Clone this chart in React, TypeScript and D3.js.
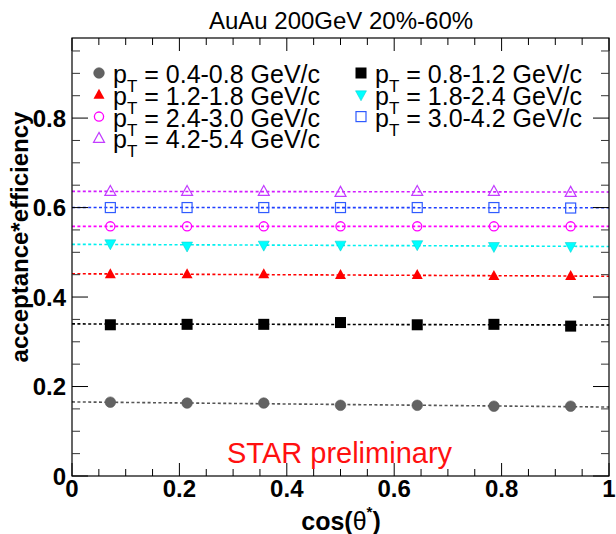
import React from "react";
import * as d3 from "d3";

// cos(theta*) bin centres (7 bins over [0, 1])
const binCenters = [0.0714, 0.2143, 0.3571, 0.5, 0.6429, 0.7857, 0.9286];

// acceptance*efficiency per pT bin
const pt04to08 = [0.165, 0.163, 0.163, 0.158, 0.158, 0.156, 0.156];
const pt08to12 = [0.338, 0.339, 0.339, 0.343, 0.338, 0.339, 0.335];
const pt12to18 = [0.451, 0.451, 0.451, 0.449, 0.449, 0.447, 0.447];
const pt18to24 = [0.519, 0.514, 0.516, 0.516, 0.517, 0.513, 0.513];
const pt24to30 = [0.558, 0.558, 0.558, 0.558, 0.558, 0.558, 0.558];
const pt30to42 = [0.6, 0.6, 0.6, 0.6, 0.6, 0.6, 0.599];
const pt42to54 = [0.636, 0.636, 0.636, 0.634, 0.636, 0.636, 0.634];

const ptLabels = [
  "0.4-0.8", "0.8-1.2", "1.2-1.8", "1.8-2.4", "2.4-3.0", "3.0-4.2", "4.2-5.4",
];

const xTickLabels = ["0", "0.2", "0.4", "0.6", "0.8", "1"];
const yTickLabels = ["0", "0.2", "0.4", "0.6", "0.8"];

type MarkerKind = "circle" | "square" | "triUp" | "triDown" | "openCircle" | "openSquare" | "openTriUp";

interface Series {
  label: string;
  values: number[];
  marker: MarkerKind;
  color: string;
  lineColor: string;
}

const series: Series[] = [
  { label: ptLabels[0], values: pt04to08, marker: "circle", color: "#626262", lineColor: "#555" },
  { label: ptLabels[1], values: pt08to12, marker: "square", color: "#000", lineColor: "#000" },
  { label: ptLabels[2], values: pt12to18, marker: "triUp", color: "#ff0000", lineColor: "#ff0000" },
  { label: ptLabels[3], values: pt18to24, marker: "triDown", color: "#00ffff", lineColor: "#00f0f0" },
  { label: ptLabels[4], values: pt24to30, marker: "openCircle", color: "#ff00ff", lineColor: "#ff00ff" },
  { label: ptLabels[5], values: pt30to42, marker: "openSquare", color: "#2f5bff", lineColor: "#1f3fff" },
  { label: ptLabels[6], values: pt42to54, marker: "openTriUp", color: "#c23cff", lineColor: "#d21cff" },
];

// legend layout: left column then right column
const legendLeft = [0, 2, 4, 6];
const legendRight = [1, 3, 5];

const W = 616;
const H = 534;
const frame = { left: 72, right: 609, top: 38, bottom: 476 };
const FONT = "'Liberation Sans', Arial, Helvetica, sans-serif";

const x = d3.scaleLinear().domain([0, 1]).range([frame.left, frame.right]);
const y = d3.scaleLinear().domain([0, 0.979]).range([frame.bottom, frame.top]);

function linearFit(xs: number[], ys: number[]) {
  const n = xs.length;
  const mx = d3.mean(xs)!;
  const my = d3.mean(ys)!;
  let sxy = 0;
  let sxx = 0;
  for (let i = 0; i < n; i++) {
    sxy += (xs[i] - mx) * (ys[i] - my);
    sxx += (xs[i] - mx) * (xs[i] - mx);
  }
  const b = sxx === 0 ? 0 : sxy / sxx;
  return { a: my - b * mx, b };
}

function Marker({ kind, cx, cy, color }: { kind: MarkerKind; cx: number; cy: number; color: string }) {
  switch (kind) {
    case "circle":
      return <circle cx={cx} cy={cy} r={5.3} fill={color} stroke="#555" strokeWidth={0.6} />;
    case "square":
      return <rect x={cx - 5.5} y={cy - 5.5} width={11} height={11} fill={color} />;
    case "triUp":
      return (
        <path
          d={`M${cx},${cy - 6} L${cx + 5.5},${cy + 4} L${cx - 5.5},${cy + 4} Z`}
          fill={color}
        />
      );
    case "triDown":
      return (
        <path
          d={`M${cx},${cy + 6} L${cx + 5.5},${cy - 4} L${cx - 5.5},${cy - 4} Z`}
          fill={color}
          stroke="#00c8c8"
          strokeWidth={0.5}
        />
      );
    case "openCircle":
      return <circle cx={cx} cy={cy} r={4.6} fill="none" stroke={color} strokeWidth={1.3} />;
    case "openSquare":
      return (
        <rect x={cx - 5} y={cy - 5} width={10} height={10} fill="none" stroke={color} strokeWidth={1.2} />
      );
    case "openTriUp":
      return (
        <path
          d={`M${cx},${cy - 6} L${cx + 5.5},${cy + 4} L${cx - 5.5},${cy + 4} Z`}
          fill="none"
          stroke={color}
          strokeWidth={1.2}
        />
      );
  }
}

function LegendEntry({ s, mx, tx, row }: { s: Series; mx: number; tx: number; row: number }) {
  const baseline = 83 + row * 21.8;
  return (
    <g>
      <Marker kind={s.marker} cx={mx} cy={baseline - 10} color={s.color} />
      <text x={tx} y={baseline} fontFamily={FONT} fontSize={25} fill="#000">
        p
        <tspan fontSize={17} dy={9}>T</tspan>
        <tspan dy={-9}>{` = ${s.label} GeV/c`}</tspan>
      </text>
    </g>
  );
}

export default function App() {
  const xMinor = d3.range(0, 1.0001, 0.05);
  const yMinor = d3.range(0, 0.979, 0.05);
  const xMajor = d3.range(0, 1.0001, 0.2);
  const yMajor = d3.range(0, 0.81, 0.2);

  return (
    <svg
      width={W}
      height={H}
      viewBox={`0 0 ${W} ${H}`}
      style={{ position: "absolute", left: 0, top: 0, background: "#fff" }}
    >
      <rect x={0} y={0} width={W} height={H} fill="#fff" />

      {/* title */}
      <text x={341} y={29} textAnchor="middle" fontFamily={FONT} fontSize={24} fill="#000">
        AuAu 200GeV 20%-60%
      </text>

      {/* fit lines */}
      {series.map((s, i) => {
        const fit = linearFit(binCenters, s.values);
        const pts = [0, 1];
        return (
          <path
            key={`fit-${i}`}
            d={
              d3
                .line<number>()
                .x((d) => x(d))
                .y((d) => y(fit.a + fit.b * d))(pts) || ""
            }
            fill="none"
            stroke={s.lineColor}
            strokeWidth={1.6}
            strokeDasharray="3,2.4"
          />
        );
      })}

      {/* data points */}
      {series.map((s, i) => (
        <g key={`pts-${i}`}>
          {s.values.map((v, j) => (
            <Marker key={j} kind={s.marker} cx={x(binCenters[j])} cy={y(v)} color={s.color} />
          ))}
        </g>
      ))}

      {/* frame */}
      <rect
        x={frame.left}
        y={frame.top}
        width={frame.right - frame.left}
        height={frame.bottom - frame.top}
        fill="none"
        stroke="#000"
        strokeWidth={1.2}
      />

      {/* x ticks, bottom and top */}
      {xMinor.map((t, i) => {
        const major = Math.abs(t / 0.2 - Math.round(t / 0.2)) < 1e-6;
        const len = major ? 13 : 7;
        return (
          <g key={`xt-${i}`} stroke="#000" strokeWidth={1}>
            <line x1={x(t)} x2={x(t)} y1={frame.bottom} y2={frame.bottom - len} />
            <line x1={x(t)} x2={x(t)} y1={frame.top} y2={frame.top + len} />
          </g>
        );
      })}
      {/* y ticks, left and right */}
      {yMinor.map((t, i) => {
        const major = Math.abs(t / 0.2 - Math.round(t / 0.2)) < 1e-6;
        const len = major ? 16 : 8;
        return (
          <g key={`yt-${i}`} stroke={major ? "#000" : "#333"} strokeWidth={1}>
            <line x1={frame.left} x2={frame.left + len} y1={y(t)} y2={y(t)} />
            <line x1={frame.right} x2={frame.right - len} y1={y(t)} y2={y(t)} />
          </g>
        );
      })}

      {/* x tick labels */}
      {xMajor.map((t, i) => (
        <text
          key={`xl-${i}`}
          x={x(t)}
          y={497}
          textAnchor="middle"
          fontFamily={FONT}
          fontWeight="bold"
          fontSize={24}
          fill="#000"
        >
          {xTickLabels[i]}
        </text>
      ))}
      {/* y tick labels */}
      {yMajor.map((t, i) => (
        <text
          key={`yl-${i}`}
          x={66}
          y={y(t) + 8.5}
          textAnchor="end"
          fontFamily={FONT}
          fontWeight="bold"
          fontSize={24}
          fill="#000"
        >
          {yTickLabels[i]}
        </text>
      ))}

      {/* axis titles */}
      <text
        transform="translate(28,237) rotate(-90)"
        textAnchor="middle"
        fontFamily={FONT}
        fontWeight="bold"
        fontSize={24}
        fill="#000"
      >
        acceptance*efficiency
      </text>
      <text x={341} y={530} textAnchor="middle" fontFamily={FONT} fontWeight="bold" fontSize={25} fill="#000">
        cos(
        <tspan fontWeight="normal">θ</tspan>
        <tspan fontSize={15} dy={-13}>*</tspan>
        <tspan dy={13}>)</tspan>
      </text>

      {/* legend */}
      {legendLeft.map((si, r) => (
        <LegendEntry key={`ll-${si}`} s={series[si]} mx={99} tx={113} row={r} />
      ))}
      {legendRight.map((si, r) => (
        <LegendEntry key={`lr-${si}`} s={series[si]} mx={361} tx={375} row={r} />
      ))}

      {/* preliminary stamp */}
      <text x={227} y={463} fontFamily={FONT} fontSize={29} fill="#ff1010">
        STAR preliminary
      </text>
    </svg>
  );
}
